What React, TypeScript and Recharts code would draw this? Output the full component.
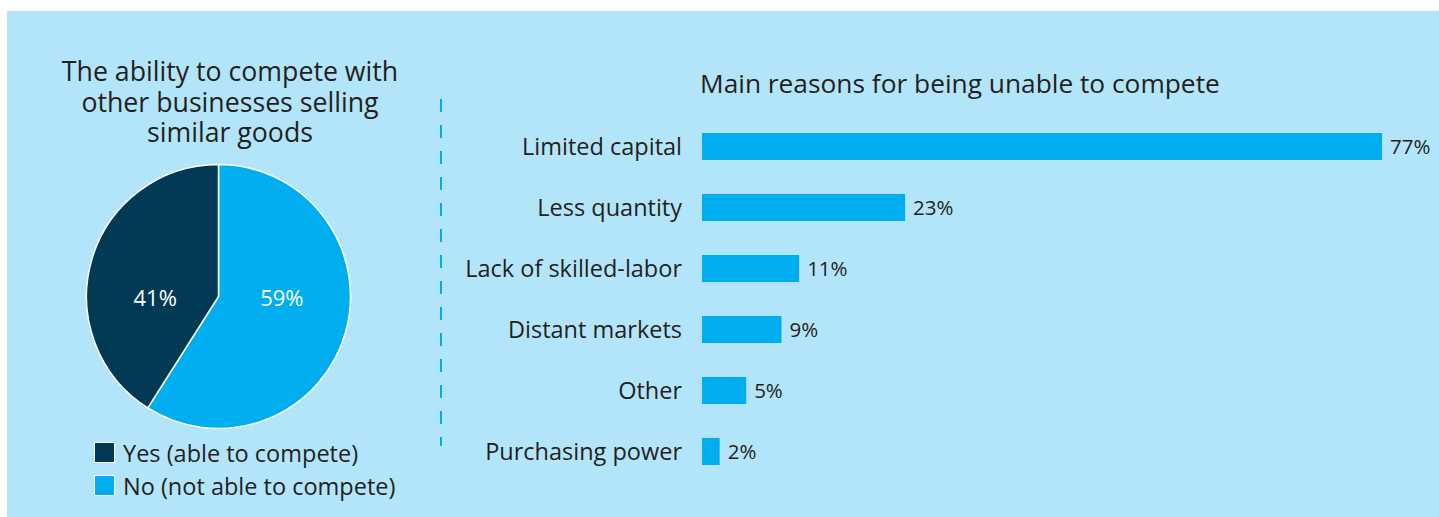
import { Bar, BarChart, Cell, LabelList, Pie, PieChart, XAxis, YAxis } from 'recharts';

const pieNames = ['No (not able to compete)', 'Yes (able to compete)'];
const pieValues = [59, 41];
const pieColors = ['#00aeef', '#023a56'];

const reasons = ['Limited capital', 'Less quantity', 'Lack of skilled-labor', 'Distant markets', 'Other', 'Purchasing power'];
const reasonValues = [77, 23, 11, 9, 5, 2];

const pieTitle = ['The ability to compete with', 'other businesses selling', 'similar goods'];
const barTitle = 'Main reasons for being unable to compete';

const legendOrder = [1, 0];

const font = '"Open Sans", sans-serif';
const ink = '#231f20';
const panelBg = '#b3e5fa';

const pieData = pieNames.map((name, i) => ({ name, value: pieValues[i] }));
const barData = reasons.map((name, i) => ({ name, value: reasonValues[i] }));

const RAD = Math.PI / 180;

// labels sit level with the centre, left or right of it
const renderPieLabel = (props: any) => {
  const { cx, cy, midAngle, outerRadius, value } = props;
  const side = Math.sign(Math.cos(-midAngle * RAD));
  return (
    <text
      x={cx + side * outerRadius * 0.48}
      y={cy}
      fill="#ffffff"
      textAnchor="middle"
      dominantBaseline="central"
      fontSize={22}
      fontFamily={font}
    >
      {value}%
    </text>
  );
};

export default function App() {
  return (
    <div style={{ position: 'absolute', left: 0, top: 0, width: 1439, height: 517, background: '#fff', fontFamily: font, color: ink }}>
      <div style={{ position: 'absolute', left: 7, top: 11, width: 1432, height: 506, background: panelBg }} />

      <div style={{ position: 'absolute', left: 30, top: 56, width: 400, textAlign: 'center', fontSize: 26.7, lineHeight: '30.5px' }}>
        {pieTitle.map((t) => (
          <div key={t} style={{ whiteSpace: 'nowrap' }}>{t}</div>
        ))}
      </div>

      <div style={{ position: 'absolute', left: 700, top: 67, fontSize: 26.3, lineHeight: '32px', whiteSpace: 'nowrap' }}>{barTitle}</div>

      <svg style={{ position: 'absolute', left: 0, top: 0 }} width={1439} height={517}>
        <line x1={441} y1={99} x2={441} y2={446} stroke="#00aeef" strokeWidth={2} strokeDasharray="13 13" />
      </svg>

      <div style={{ position: 'absolute', left: 0, top: 0 }}>
        <PieChart width={440} height={517}>
          <Pie
            data={pieData}
            dataKey="value"
            nameKey="name"
            cx={213.5}
            cy={291.5}
            outerRadius={132}
            startAngle={90}
            endAngle={-270}
            stroke="#ffffff"
            strokeWidth={1.5}
            label={renderPieLabel}
            labelLine={false}
            isAnimationActive={false}
          >
            {pieData.map((entry, index) => (
              <Cell key={entry.name} fill={pieColors[index]} />
            ))}
          </Pie>
        </PieChart>
      </div>

      <div style={{ position: 'absolute', left: 94, top: 436 }}>
        {legendOrder.map((i) => (
          <div key={pieNames[i]} style={{ display: 'flex', alignItems: 'center', height: 33 }}>
            <span
              style={{
                display: 'inline-block',
                width: 19,
                height: 19,
                background: pieColors[i],
                border: '1.5px solid #fff',
                marginRight: 8,
              }}
            />
            <span style={{ fontSize: 23.5, whiteSpace: 'nowrap' }}>{pieNames[i]}</span>
          </div>
        ))}
      </div>

      <div style={{ position: 'absolute', left: 0, top: 0 }}>
        <BarChart
          width={1439}
          height={517}
          data={barData}
          layout="vertical"
          margin={{ top: 116, right: 57, bottom: 35, left: 442 }}
        >
          <XAxis type="number" domain={[0, 77]} allowDataOverflow hide />
          <YAxis
            type="category"
            dataKey="name"
            width={260}
            tickLine={false}
            axisLine={false}
            tickSize={0}
            tickMargin={20}
            interval={0}
            tick={{ fill: ink, fontSize: 23.5, fontFamily: font }}
          />
          <Bar dataKey="value" fill="#00aeef" barSize={27} isAnimationActive={false}>
            <LabelList
              dataKey="value"
              position="right"
              offset={8}
              formatter={(v: any) => `${v}%`}
              fill={ink}
              fontSize={20.5}
              fontFamily={font}
            />
          </Bar>
        </BarChart>
      </div>
    </div>
  );
}
